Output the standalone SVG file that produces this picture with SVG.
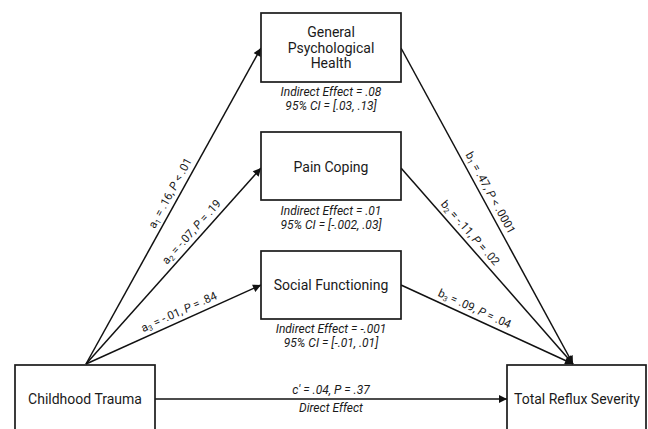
<svg xmlns="http://www.w3.org/2000/svg" width="648" height="429" viewBox="0 0 648 429">
<style>
.box{fill:#fff;stroke:#1a1a1a;stroke-width:1.7}
.node{font-family:Roboto,"Liberation Sans",sans-serif;font-size:14px;fill:#1a1a1a;text-anchor:middle}
.note{font-family:Roboto,"Liberation Sans",sans-serif;font-size:12px;font-style:italic;fill:#1a1a1a;text-anchor:middle}
.lbl{font-family:Roboto,"Liberation Sans",sans-serif;font-size:11.5px;fill:#1a1a1a;text-anchor:middle}
.it{font-style:italic}
.sub{font-size:7.5px}
.edge{stroke:#111;stroke-width:1.5;fill:none;marker-end:url(#ah)}
</style>
<defs>
<marker id="ah" viewBox="0 0 10 10" refX="10" refY="5" markerWidth="9" markerHeight="8" markerUnits="userSpaceOnUse" orient="auto">
<path d="M0,0 L10,5 L0,10 z" fill="#111"/>
</marker>
</defs>
<rect width="648" height="429" fill="#fff"/>
<g id="connectors">
<line class="edge" x1="86" y1="364" x2="261" y2="48"/>
<line class="edge" x1="86" y1="364" x2="261" y2="168"/>
<line class="edge" x1="86" y1="364" x2="261" y2="285"/>
<line class="edge" x1="401" y1="48" x2="573" y2="364"/>
<line class="edge" x1="401" y1="168" x2="573" y2="364"/>
<line class="edge" x1="401" y1="285" x2="573" y2="364"/>
<line class="edge" x1="155" y1="399" x2="507" y2="399"/>
<text class="lbl" transform="translate(173.4,194.9) rotate(-61.3)">a<tspan class="sub" dy="2">1</tspan><tspan dy="-2"> = .16, </tspan><tspan class="it">P</tspan> &lt; .01</text>
<text class="lbl" transform="translate(194.3,234.4) rotate(-48.2)">a<tspan class="sub" dy="2">2</tspan><tspan dy="-2"> = -.07, </tspan><tspan class="it">P</tspan> = .19</text>
<text class="lbl" transform="translate(180.6,315.3) rotate(-24.3)">a<tspan class="sub" dy="2">3</tspan><tspan dy="-2"> = -.01, </tspan><tspan class="it">P</tspan> = .84</text>
<text class="lbl" transform="translate(487,194.6) rotate(61.4)">b<tspan class="sub" dy="2">1</tspan><tspan dy="-2"> = .47, </tspan><tspan class="it">P</tspan> &lt; .0001</text>
<text class="lbl" transform="translate(467.4,235.4) rotate(48.7)">b<tspan class="sub" dy="2">2</tspan><tspan dy="-2"> = -.11, </tspan><tspan class="it">P</tspan> = .02</text>
<text class="lbl" transform="translate(473.1,312.1) rotate(24.7)">b<tspan class="sub" dy="2">3</tspan><tspan dy="-2"> = .09, </tspan><tspan class="it">P</tspan> = .04</text>
<text class="note" x="331" y="394">c′ = .04, P = .37</text>
<text class="note" x="331" y="412">Direct Effect</text>
</g>
<g id="general">
<rect class="box" x="261" y="13" width="140" height="69"/>
<text class="node" x="331" y="37">General</text>
<text class="node" x="331" y="53">Psychological</text>
<text class="node" x="331" y="68">Health</text>
<text class="note" x="331" y="96">Indirect Effect = .08</text>
<text class="note" x="331" y="110">95% CI = [.03, .13]</text>
</g>
<g id="pain">
<rect class="box" x="261" y="132" width="140" height="68"/>
<text class="node" x="331" y="172">Pain Coping</text>
<text class="note" x="331" y="215">Indirect Effect = .01</text>
<text class="note" x="331" y="229">95% CI = [-.002, .03]</text>
</g>
<g id="social">
<rect class="box" x="261" y="251" width="140" height="68"/>
<text class="node" x="331" y="290">Social Functioning</text>
<text class="note" x="331" y="333">Indirect Effect = -.001</text>
<text class="note" x="331" y="347">95% CI = [-.01, .01]</text>
</g>
<g id="trauma">
<rect class="box" x="15" y="365" width="140" height="70"/>
<text class="node" x="85" y="404">Childhood Trauma</text>
</g>
<g id="reflux">
<rect class="box" x="507" y="365" width="139" height="70"/>
<text class="node" x="577" y="404">Total Reflux Severity</text>
</g>
</svg>
